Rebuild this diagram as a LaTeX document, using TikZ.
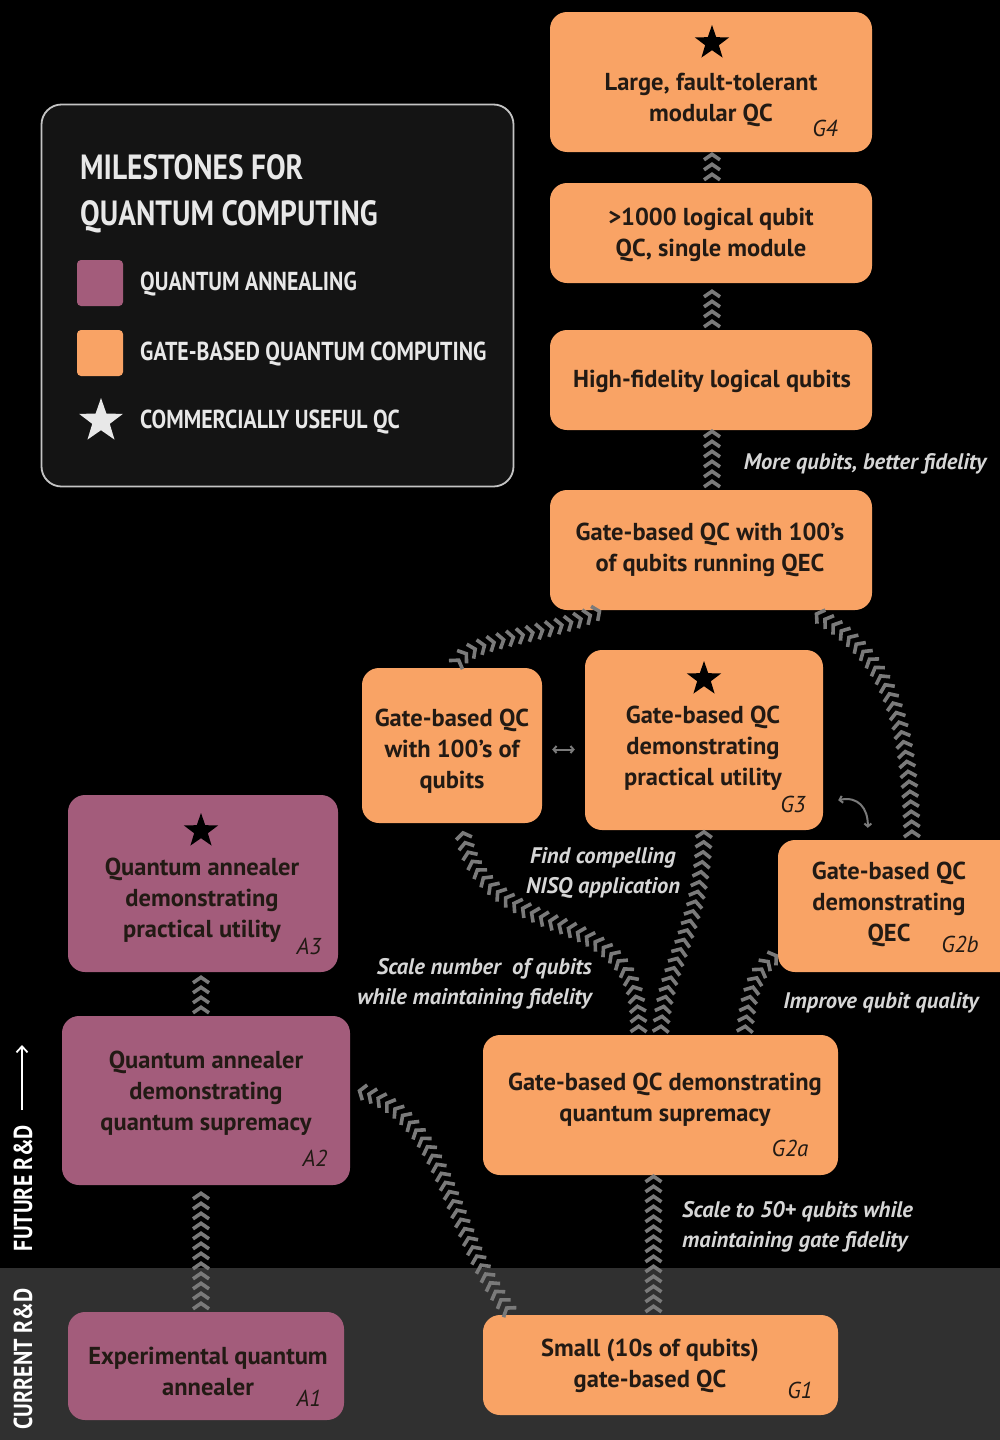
\documentclass[tikz,border=0pt]{standalone}
\usepackage{fontspec}
\setmainfont{PT Sans}
% bold for box texts and notes, condensed bold for headings
\newfontfamily\boxfont{PT Sans}
\newfontfamily\headfont[FakeStretch=0.84]{PT Sans}
\usetikzlibrary{decorations.markings, shapes.geometric, arrows.meta}

\definecolor{gateorange}{HTML}{F9A365}
\definecolor{annealpurple}{HTML}{A35C7B}
\definecolor{bandgrey}{HTML}{303030}
\definecolor{chevgrey}{HTML}{7A7A7A}
\definecolor{notegrey}{HTML}{D6D6D6}
\definecolor{legendfill}{HTML}{141414}
\definecolor{legendedge}{HTML}{C4C4C4}
\definecolor{legendtext}{HTML}{E8E8E8}
\definecolor{inktext}{HTML}{221A14}

\tikzset{
  milestone/.style={rectangle, rounded corners=17pt, inner sep=0pt, draw=none},
  gatebox/.style={milestone, fill=gateorange},
  annealbox/.style={milestone, fill=annealpurple},
  boxtext/.style={text=inktext, align=center, inner sep=0pt,
    font=\boxfont\bfseries\fontsize{24.5}{31}\selectfont},
  tag/.style={text=inktext, inner sep=0pt,
    font=\itshape\fontsize{23}{25}\selectfont},
  boxstar/.style={star, star points=5, star point ratio=2.5, fill=black,
    minimum size=36pt, inner sep=0pt},
  note/.style={text=notegrey, inner sep=0pt,
    font=\boxfont\bfseries\itshape\fontsize{22.5}{30}\selectfont},
  headtext/.style={text=legendtext, inner sep=0pt, anchor=base west,
    font=\headfont\bfseries\fontsize{35}{40}\selectfont},
  keytext/.style={text=legendtext, inner sep=0pt, anchor=base west,
    font=\headfont\bfseries\fontsize{26}{30}\selectfont},
  sidetext/.style={text=white, inner sep=0pt, rotate=90,
    font=\headfont\bfseries\fontsize{26}{30}\selectfont},
  chevrons/.style={decorate, decoration={markings,
    mark=between positions 6pt and -3pt step 10pt with {
      \draw[chevgrey, line width=3.6pt, line join=miter, line cap=butt]
        (-3pt,-8pt) -- (2.5pt,0pt) -- (-3pt,8pt);}}},
  swap/.style={chevgrey, line width=2pt,
    {Straight Barb[length=3pt,width=7pt]}-{Straight Barb[length=3pt,width=7pt]}}
}

\begin{document}
\begin{tikzpicture}[x=1pt, y=-1pt]
% background: future R&D (black) and current R&D band (grey)
\fill[black] (0,0) rectangle (1000,1440);
\fill[bandgrey] (0,1268) rectangle (1000,1440);
\useasboundingbox (0,0) rectangle (1000,1440);

% legend
\node[milestone, fill=legendfill, draw=legendedge, line width=1.8pt,
  rounded corners=20pt, minimum width=472pt, minimum height=382pt] (legend) at (277.5,295.5) {};
\node[headtext] (head1) at (80,179) {MILESTONES FOR};
\node[headtext] (head2) at (80,225) {QUANTUM COMPUTING};
\node[milestone, fill=annealpurple, rounded corners=4pt, minimum size=46pt] (keyanneal) at (100,283) {};
\node[milestone, fill=gateorange, rounded corners=4pt, minimum size=46pt] (keygate) at (100,353) {};
\node[star, star points=5, star point ratio=2.5, fill=legendtext, minimum size=46pt, inner sep=0pt] (keystar) at (101,421) {};
\node[keytext] (keyannealtext) at (140,290) {QUANTUM ANNEALING};
\node[keytext] (keygatetext) at (140,360) {GATE-BASED QUANTUM COMPUTING};
\node[keytext] (keystartext) at (140,428) {COMMERCIALLY USEFUL QC};

% side labels
\node[sidetext] (current) at (23,1359) {CURRENT R\&D};
\node[sidetext] (future) at (23,1188) {FUTURE R\&D};
\coordinate (futuretail) at (22,1110);
\coordinate (futurehead) at (22,1045);
\draw[white, line width=1.8pt, -{Straight Barb[length=6pt,width=11pt]}] (futuretail) -- (futurehead);

% gate-based milestones
\node[gatebox, minimum width=322pt, minimum height=140pt] (g4) at (711,82) {};
\node[boxstar] (g4star) at (712,43) {};
\node[boxtext] (g4text) at (711,100) {Large, fault-tolerant\\modular QC};
\node[tag] (g4tag) at (825,128) {G4};

\node[gatebox, minimum width=322pt, minimum height=100pt] (k1000) at (711,233) {};
\node[boxtext] (k1000text) at (711,235) {>1000 logical qubit\\QC, single module};

\node[gatebox, minimum width=322pt, minimum height=100pt] (hifi) at (711,380) {};
\node[boxtext] (hifitext) at (712,381) {High-fidelity logical qubits};

\node[gatebox, minimum width=322pt, minimum height=120pt] (qec) at (711,550) {};
\node[boxtext] (qectext) at (710,550) {Gate-based QC with 100’s\\of qubits running QEC};

\node[gatebox, minimum width=180pt, minimum height=155pt] (g100) at (452,745.5) {};
\node[boxtext] (g100text) at (452,751) {Gate-based QC\\with 100’s of\\qubits};

\node[gatebox, minimum width=238pt, minimum height=180pt] (g3) at (704,740) {};
\node[boxstar] (g3star) at (704,679) {};
\node[boxtext] (g3text) at (703,748) {Gate-based QC\\demonstrating\\practical utility};
\node[tag] (g3tag) at (793,804) {G3};

\node[gatebox, minimum width=240pt, minimum height=132pt] (g2b) at (898,906) {};
\node[boxtext] (g2btext) at (889,904) {Gate-based QC\\demonstrating\\QEC};
\node[tag] (g2btag) at (960,944) {G2b};

\node[gatebox, minimum width=355pt, minimum height=140pt] (g2a) at (660.5,1105) {};
\node[boxtext] (g2atext) at (665,1100) {Gate-based QC demonstrating\\quantum supremacy};
\node[tag] (g2atag) at (790,1148) {G2a};

\node[gatebox, minimum width=355pt, minimum height=100pt] (g1) at (660.5,1365) {};
\node[boxtext] (g1text) at (650,1366) {Small (10s of qubits)\\gate-based QC};
\node[tag] (g1tag) at (800,1390) {G1};

% annealing milestones
\node[annealbox, minimum width=270pt, minimum height=177pt] (a3) at (203,883.5) {};
\node[boxstar] (a3star) at (201,831) {};
\node[boxtext] (a3text) at (202,900) {Quantum annealer\\demonstrating\\practical utility};
\node[tag] (a3tag) at (309,946) {A3};

\node[annealbox, minimum width=288pt, minimum height=169pt] (a2) at (206,1100.5) {};
\node[boxtext] (a2text) at (206,1093) {Quantum annealer\\demonstrating\\quantum supremacy};
\node[tag] (a2tag) at (315,1158) {A2};

\node[annealbox, minimum width=276pt, minimum height=108pt] (a1) at (206,1366) {};
\node[boxtext] (a1text) at (208,1371) {Experimental quantum\\annealer};
\node[tag] (a1tag) at (309,1398) {A1};

% progress connectors (chevron chains pointing toward the next milestone)
\path[chevrons] ([xshift=1pt]k1000.north) -- ([xshift=1pt]g4.south);
\path[chevrons] ([xshift=1pt]hifi.north) -- ([xshift=1pt]k1000.south);
\path[chevrons] ([xshift=1pt]qec.north) -- ([xshift=1pt]hifi.south);
\path[chevrons] ([xshift=3pt]g100.north) .. controls (462,638) and (545,638) .. ([xshift=52pt]qec.south west);
\path[chevrons] ([xshift=14pt]g2b.north) .. controls (910,700) and (880,650) .. ([xshift=99pt]qec.south);
\path[chevrons] ([xshift=-22pt]g2a.north) .. controls (640,980) and (625,950) .. (560,925)
  .. controls (508,905) and (466,880) .. ([xshift=10pt]g100.south);
\path[chevrons] ([xshift=0pt]g2a.north) .. controls (664,960) and (703,930) .. (g3.south);
\path[chevrons] ([xshift=84pt]g2a.north) .. controls (748,990) and (758,965) .. ([yshift=-49pt]g2b.west);
\path[chevrons] ([xshift=-7pt]g1.north) -- ([xshift=-7pt]g2a.south);
\path[chevrons] ([xshift=29pt]g1.north west) .. controls (445,1230) and (450,1110) .. ([yshift=12pt]a2.east);
\path[chevrons] ([xshift=-5pt]a1.north) -- ([xshift=-5pt]a2.south);
\path[chevrons] ([xshift=-5pt]a2.north) -- ([xshift=-5pt]a2.north |- a3.south);

% interchangeable milestones
\draw[swap] ([xshift=10pt,yshift=-4pt]g100.east) -- ([xshift=-10pt,yshift=-4pt]g100.east -| g3.west);
\coordinate (g3swap) at ([xshift=15pt,yshift=30pt]g3.south east);
\coordinate (g2bswap) at ([xshift=90pt,yshift=12pt]g2b.north west);
\draw[swap] (g3swap) .. controls (858,796) and (868,808) .. (g2bswap);

% connector notes
\node[note] (notefid) at (865,464) {More qubits, better fidelity};
\node[note, align=center] (notenisq) at (603,873) {Find compelling\\NISQ application};
\node[note, align=right, anchor=east] (notescale) at (592,984) {Scale number\ \ of qubits\\while maintaining fidelity};
\node[note] (notequality) at (881,1003) {Improve qubit quality};
\node[note, align=left, anchor=west] (note50) at (682,1227) {Scale to 50+ qubits while\\maintaining gate fidelity};
\end{tikzpicture}
\end{document}
